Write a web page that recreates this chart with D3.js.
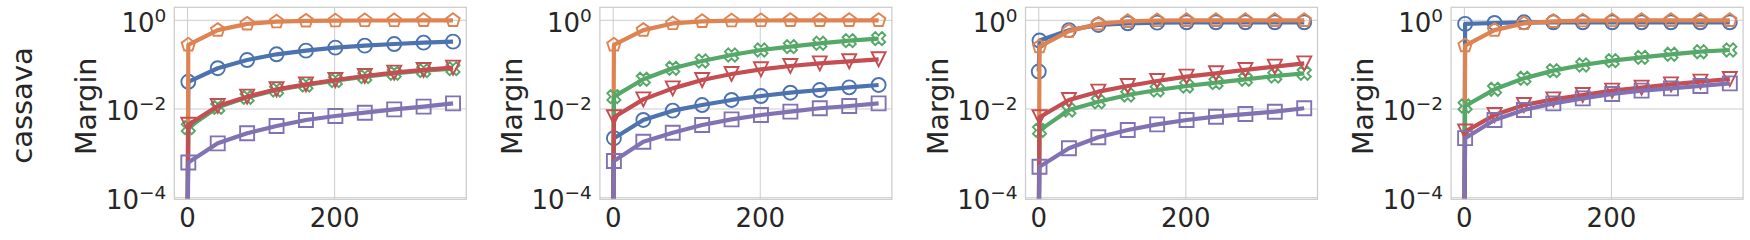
<!DOCTYPE html>
<html>
<head>
<meta charset="utf-8">
<script src="https://cdn.jsdelivr.net/npm/d3@7"></script>
<style>
  html, body { margin: 0; padding: 0; background: #fff; }
  svg { display: block; font-family: "DejaVu Sans", sans-serif; }
</style>
</head>
<body>
<svg id="chart" width="1750" height="240"></svg>
<script>
// ---- data ----
const rowLabel = "cassava";
const yLabel = "Margin";
const xStart = 0;                                   // first iteration (margin 0)
const xMarks = [1, 41, 81, 121, 161, 201, 241, 281, 321, 361];
const xTicks = [0, 200];
const yTicks = [1, 1e-2, 1e-4];
const yTickExp = ["0", "\u22122", "\u22124"];
const seriesNames = ["blue", "orange", "green", "red", "purple"];

// panel 1
const p1Blue   = [0.041, 0.083, 0.127, 0.171, 0.207, 0.242, 0.268, 0.292, 0.313, 0.33];
const p1Orange = [0.28, 0.6, 0.83, 0.93, 0.97, 0.98, 0.99, 0.99, 1.0, 1.0];
const p1Green  = [0.0038, 0.0109, 0.0183, 0.0268, 0.0348, 0.0436, 0.0536, 0.0638, 0.0732, 0.0813];
const p1Red    = [0.0044, 0.0117, 0.019, 0.0278, 0.036, 0.045, 0.0555, 0.066, 0.0759, 0.0856];
const p1Purple = [0.00062, 0.00168, 0.00283, 0.00414, 0.00565, 0.00695, 0.00826, 0.00982, 0.0113, 0.0134];
// panel 2
const p2Blue   = [0.0022, 0.00565, 0.00917, 0.0123, 0.016, 0.0196, 0.0233, 0.0268, 0.0308, 0.0348];
const p2Orange = [0.28, 0.6, 0.85, 0.95, 0.98, 0.99, 1.0, 1.0, 1.0, 1.0];
const p2Green  = [0.019, 0.0467, 0.0827, 0.121, 0.165, 0.214, 0.255, 0.303, 0.348, 0.386];
const p2Red    = [0.0065, 0.0165, 0.0292, 0.045, 0.0616, 0.0785, 0.0933, 0.107, 0.119, 0.132];
const p2Purple = [0.00067, 0.00183, 0.00292, 0.00435, 0.00585, 0.00733, 0.00871, 0.0104, 0.0117, 0.0134];
// panel 3
const p3Blue   = [0.35, 0.6, 0.785, 0.856, 0.886, 0.9, 0.9, 0.9, 0.9, 0.9];
const p3BlueStart = 0.07;
const p3Orange = [0.255, 0.57, 0.83, 0.95, 0.99, 1.0, 1.0, 1.0, 1.0, 1.0];
const p3Green  = [0.0033, 0.0095, 0.0146, 0.0207, 0.0268, 0.033, 0.0393, 0.0467, 0.0555, 0.0638];
const p3Red    = [0.0065, 0.016, 0.0246, 0.033, 0.0428, 0.0536, 0.0638, 0.0759, 0.0902, 0.107];
const p3Purple = [0.0005, 0.0013, 0.0023, 0.00336, 0.00451, 0.00565, 0.00671, 0.0077, 0.0087, 0.0104];
// panel 4
const p4Blue   = [0.83, 0.87, 0.9, 0.9, 0.9, 0.9, 0.9, 0.9, 0.9, 0.9];
const p4Orange = [0.27, 0.6, 0.85, 0.95, 0.98, 0.99, 1.0, 1.0, 1.0, 1.0];
const p4Green  = [0.0117, 0.0278, 0.0492, 0.0732, 0.0982, 0.123, 0.146, 0.171, 0.196, 0.214];
const p4Red    = [0.0031, 0.0073, 0.0123, 0.0165, 0.0207, 0.0259, 0.0303, 0.036, 0.0414, 0.0475];
const p4Purple = [0.0022, 0.00565, 0.0095, 0.0134, 0.0174, 0.0218, 0.0259, 0.0292, 0.033, 0.0379];

const panels = [
  { blue: p1Blue, orange: p1Orange, green: p1Green, red: p1Red, purple: p1Purple, startVals: {} },
  { blue: p2Blue, orange: p2Orange, green: p2Green, red: p2Red, purple: p2Purple, startVals: {} },
  { blue: p3Blue, orange: p3Orange, green: p3Green, red: p3Red, purple: p3Purple, startVals: { blue: p3BlueStart } },
  { blue: p4Blue, orange: p4Orange, green: p4Green, red: p4Red, purple: p4Purple, startVals: {} },
];

// ---- styles ----
const colors = { blue: "#4C72B0", orange: "#DD8452", green: "#55A868", red: "#C44E52", purple: "#8172B3" };
const markers = { blue: "circle", orange: "pentagon", green: "x", red: "tri", purple: "square" };
const gridColor = "#cccccc";
const textColor = "#262626";

const svg = d3.select("#chart");
const firstLeft = 174.3, panelStep = 425.6, plotTop = 7.3;
const innerW = 292, innerH = 192;
const tickFont = 26, supFont = 18.5, labelFont = 28.5, rowFont = 29;

const x = d3.scaleLinear().domain([-18.05, 379.05]).range([0, innerW]);
const y = d3.scaleLog().domain([Math.pow(10, -4.036), Math.pow(10, 0.293)]).range([innerH, 0]);

function markerPath(kind, s) {
  const h = s / 2;
  if (kind === "circle") {
    return `M${h},0A${h},${h} 0 1,1 ${-h},0A${h},${h} 0 1,1 ${h},0Z`;
  }
  if (kind === "square") return `M${-h},${-h}H${h}V${h}H${-h}Z`;
  if (kind === "tri") return `M0,${h}L${-h},${-h}L${h},${-h}Z`;
  if (kind === "pentagon") {
    const pts = d3.range(5).map(i => {
      const a = -Math.PI / 2 + i * 2 * Math.PI / 5;
      return [h * Math.cos(a), h * Math.sin(a)];
    });
    return "M" + pts.map(p => p.join(",")).join("L") + "Z";
  }
  if (kind === "x") {
    const base = [[-1, -3], [1, -3], [1, -1], [3, -1], [3, 1], [1, 1], [1, 3], [-1, 3], [-1, 1], [-3, 1], [-3, -1], [-1, -1]];
    const c = Math.SQRT1_2;
    const pts = base.map(([a, b]) => {
      const u = a / 6 * s, v = b / 6 * s;
      return [(u - v) * c, (u + v) * c];
    });
    return "M" + pts.map(p => p.join(",")).join("L") + "Z";
  }
}

// row label
svg.append("text")
  .attr("transform", `translate(31.5,105.5) rotate(-90)`)
  .attr("text-anchor", "middle")
  .attr("font-size", rowFont)
  .attr("fill", textColor)
  .text(rowLabel);

panels.forEach((pd, pi) => {
  const left = firstLeft + pi * panelStep;
  const g = svg.append("g").attr("transform", `translate(${left},${plotTop})`);

  const clipId = "clip" + pi;
  g.append("clipPath").attr("id", clipId)
    .append("rect").attr("x", 0).attr("y", 0).attr("width", innerW).attr("height", innerH);

  // grid
  g.append("g").selectAll("line").data(yTicks).join("line")
    .attr("x1", 0).attr("x2", innerW)
    .attr("y1", d => y(d)).attr("y2", d => y(d))
    .attr("stroke", gridColor).attr("stroke-width", 1);
  g.append("g").selectAll("line").data(xTicks).join("line")
    .attr("y1", 0).attr("y2", innerH)
    .attr("x1", d => x(d)).attr("x2", d => x(d))
    .attr("stroke", gridColor).attr("stroke-width", 1);

  // y tick labels (10^k)
  const yl = g.append("g").selectAll("text").data(yTicks).join("text")
    .attr("x", -8).attr("y", d => y(d) + 11.4)
    .attr("text-anchor", "end")
    .attr("font-size", tickFont)
    .attr("fill", textColor);
  yl.append("tspan").text("10");
  yl.append("tspan").attr("dy", -10).attr("font-size", supFont).text((d, i) => yTickExp[i]);

  // x tick labels
  g.append("g").selectAll("text").data(xTicks).join("text")
    .attr("x", d => x(d)).attr("y", innerH + 27.4)
    .attr("text-anchor", "middle")
    .attr("font-size", tickFont)
    .attr("fill", textColor)
    .text(d => d3.format("d")(d));

  // y label
  g.append("text")
    .attr("transform", `translate(-78,${innerH / 2 + 3}) rotate(-90)`)
    .attr("text-anchor", "middle")
    .attr("font-size", labelFont)
    .attr("fill", textColor)
    .text(yLabel);

  // series
  const plot = g.append("g").attr("clip-path", `url(#${clipId})`);
  seriesNames.forEach(name => {
    const vals = pd[name];
    const startV = pd.startVals[name] !== undefined ? pd.startVals[name] : 0;
    const pts = [{ x: xStart, v: startV, mark: startV > 0 }]
      .concat(vals.map((v, i) => ({ x: xMarks[i], v: v, mark: true })));
    const yy = v => v > 0 ? y(v) : innerH + 30;
    const line = d3.line().x(d => x(d.x)).y(d => yy(d.v));
    plot.append("path")
      .attr("d", line(pts))
      .attr("fill", "none")
      .attr("stroke", colors[name])
      .attr("stroke-width", 4.2)
      .attr("stroke-linejoin", "round")
      .attr("stroke-linecap", "butt");
    plot.append("g").selectAll("path").data(pts.filter(d => d.mark)).join("path")
      .attr("transform", d => `translate(${x(d.x)},${yy(d.v)})`)
      .attr("d", markerPath(markers[name], 14))
      .attr("fill", "none")
      .attr("stroke", colors[name])
      .attr("stroke-width", 1.9);
  });

  // spines
  g.append("rect")
    .attr("x", 0).attr("y", 0).attr("width", innerW).attr("height", innerH)
    .attr("fill", "none").attr("stroke", gridColor).attr("stroke-width", 1.25);
});
</script>
</body>
</html>
